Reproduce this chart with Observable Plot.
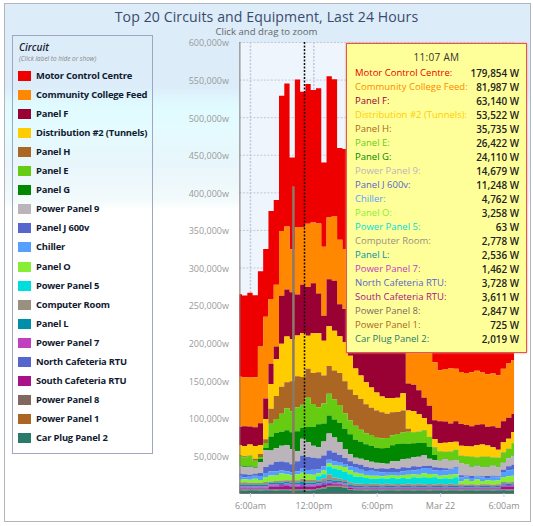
<!DOCTYPE html>
<html><head><meta charset="utf-8">
<script src="https://cdn.jsdelivr.net/npm/d3@7"></script>
<script src="https://cdn.jsdelivr.net/npm/@observablehq/plot@0.6"></script>
<style>
html,body{margin:0;padding:0;background:#fff;font-family:"Open Sans",sans-serif;}
#wrap{position:relative;width:533px;height:526px;overflow:hidden;}
#bg{position:absolute;left:4px;top:3px;width:525px;height:517px;border:1px solid #b4b4bc;
 background:linear-gradient(to bottom,#dcecf9 0,#dcecf9 82px,#e0fbff 102px,#e4fbff 125px,#e8f6fb 160px,#f2fafc 195px,#fff 206px);}
#wrap svg{position:absolute;left:0;top:0;background:transparent;}
#title{position:absolute;left:4px;width:525px;top:9px;line-height:16px;text-align:center;font-size:14.1px;color:#3b4a6b;letter-spacing:.1px;}
#sub{position:absolute;left:4px;width:525px;top:26px;line-height:11px;text-align:center;font-size:9.6px;color:#666;}
#legend{position:absolute;left:12px;top:35px;width:139px;height:417px;border:1px solid #a0a6c0;}
#legend .h{position:absolute;left:6px;top:4px;font-size:10px;font-weight:600;font-style:italic;color:#223;}
#legend .n{position:absolute;left:6px;top:18px;font-size:6.4px;font-style:italic;color:#888;}
#legend .r{position:absolute;left:5px;height:13px;white-space:nowrap;}
#legend .s{position:absolute;left:0;top:1px;width:13px;height:10px;}
#legend .l{position:absolute;left:18px;top:-1px;font-size:9.4px;letter-spacing:-.2px;font-weight:700;color:#111a30;}
#tip{position:absolute;left:346px;top:43px;width:179px;height:308px;background:#ffff99;border:1px solid #e05a4a;box-shadow:0 0 2px #e88;}
#tip .t{position:absolute;left:0;width:100%;top:6px;text-align:center;font-size:10px;color:#333;letter-spacing:.3px;}
#tip .r{position:absolute;left:8px;right:7px;height:14px;font-size:9.5px;line-height:14px;white-space:nowrap;}
#tip .v{position:absolute;right:0;top:0;color:#222;font-weight:600;font-size:9.9px;}
</style></head>
<body><div id="wrap"><div id="bg"></div><div id="chart"></div>
<div id="title"></div><div id="sub"></div><div id="legend"></div><div id="tip"></div></div>
<script>
const titleText="Top 20 Circuits and Equipment, Last 24 Hours";
const subText="Click and drag to zoom";
const names=["Motor Control Centre","Community College Feed","Panel F","Distribution #2 (Tunnels)","Panel H","Panel E","Panel G","Power Panel 9","Panel J 600v","Chiller","Panel O","Power Panel 5","Computer Room","Panel L","Power Panel 7","North Cafeteria RTU","South Cafeteria RTU","Power Panel 8","Power Panel 1","Car Plug Panel 2"];
const colors=["#ee0000","#ff8800","#990033","#ffcc00","#aa6622","#66cc11","#008800","#bbb4bb","#5566cc","#55a0ff","#88ee33","#00dddd","#999080","#008fa8","#c040c0","#5566cc","#aa1188","#806860","#aa6622","#2a7a6a"];
const readout=["179,854 W","81,987 W","63,140 W","53,522 W","35,735 W","26,422 W","24,110 W","14,679 W","11,248 W","4,762 W","3,258 W","63 W","2,778 W","2,536 W","1,462 W","3,728 W","3,611 W","2,847 W","725 W","2,019 W"];
const readoutTime="11:07 AM";
// half-hourly kW readings, from 05:00 on Mar 21 to 07:00 on Mar 22
const startTime=Date.UTC(2015,2,21,5,0);
const motorControl=[110,109,113,109,100,90,117,113,180,190,122,197,180,186,176,180,112,188,182,122,133,113,100,93,93,80,73,73,67,69,73,76,53,53,53,53,60,56,60,60,62,60,62,64,62,60,62,64,62,60,58,56,54];
const college=[66.5,65,65,66.5,102,109,86,82,86,84,57,89,77,84,81,93,92,82,86,86,80,100,106,100,86,80,66,60,60,60,66,70,110,100,93,90,80,77,68,70,73,70,69,69,72,72,69,70,70,70,70,72,72];
const panelF=[24,26.6,24,25,29,27,27,17,64,62.5,62.5,54.5,64,65,66.5,53,33,62.5,66.5,42.5,44,33,31,40,48,56,62.5,68,69,70.5,69,64,36,35,32,27,25,25,29,28,25,27,29,28,27,27,27,25,28,29,28,28,24];
const distribution=[13.3,13.3,14.6,17,12,27,33,49,57,61,56,54.5,58.5,44,53,52,46.5,53,53,49,52,45,35,31,29,27,24,21,21,19,19,23,24,28,23,16,16,10.6,10.6,12,12,10.6,13.3,13.3,13.3,16,16,14.6,13.3,10.6,13.3,13.3,14.6];
const panelH=[1.3,1.3,.5,2.7,4,5,20,30.6,36,34.6,40,41,37,38.6,41,46.5,37,37,38.6,42.5,42.5,41,41,41,38.6,36,36,34.6,32,30.6,29,29,4,.3,.3,.3,.3,.3,.3,.3,.3,.3,.3,.3,.3,.3,.3,.3,.3,.3,.3,.3,.3];
const panelE=[12,12,13.3,8,2.7,6.7,17,18.6,24,29,28,32,30.6,38.6,30.6,22.6,26.6,29,26.6,24,21,18.6,18.6,16,14.6,14.6,13.3,13.3,13.3,13.3,13.3,14.6,16,14.6,14.6,17,13.3,10.6,12,9.3,12,13.3,9.3,10.6,13.3,10.6,13.3,13.3,10.6,12,13.3,12,16];
const panelG=[1.3,1.3,1.3,1.3,4,2.7,18.6,20,18.6,20,22.6,26.6,14.6,20,25,30.6,24,24,24,25,26.6,26.6,24,22.6,21,21,20,20,21,21,22.6,21,20,18.6,18.6,16,16,6.7,.4,.4,.4,.4,.4,.4,.4,.4,.4,.4,.4,.4,.4,.4,.4];
const powerPanel9=[10.6,9.3,10.6,8,14.6,22.6,18.6,18.6,21,22.6,20,13.3,22.6,20,16,14.6,18.6,22.6,20,17.3,12,9.3,8,8,9.3,8,8,6.7,6.7,9.3,10.6,10.6,12,12,13.3,14.6,9.3,9.3,9.3,12,10.6,9.3,16,14.6,12,13.3,12,12,13.3,12,9.3,10.6,12];
const panelJ=[2.7,4,2.7,2.7,4,8,9.3,12,12,12,10.6,13.3,17.3,17.3,16,14.6,14.6,12,12,9.3,8,6.7,5.3,6.7,5.3,4,4,5.3,5.3,5.3,5.3,5.3,4,5.3,4,2.7,4,4,4,2.7,1.3,1.3,2.7,1.3,2.7,1.3,1.3,2.7,1.3,1.3,2.7,5.3,6.7];
const chiller=[5.3,2.7,4,4,5.3,5.3,5.3,5.3,4,4,4,4,5.3,5.3,6.7,5.3,5.3,5.3,5.3,5.3,4,5.3,6.7,5.3,5.3,6.7,5.3,5.3,4,4,4,5.3,5.3,5.3,6.7,6.7,6.7,5.3,6.7,6.7,6.7,8,5.3,4,4,4,5.3,2.7,5.3,4,6.7,8,8];
const panelO=[4,4,4,5.3,4,6.7,8,8,9.3,8,6.7,8,8,8,6.7,4,5.3,4,4,5.3,6.7,5.3,5.3,4,4,4,4,2.7,4,4,4,4,5.3,4,4,5.3,5.3,4,4,4,5.3,4,4,6.7,4,6.7,4,5.3,5.3,5.3,6.7,8,8];
const powerPanel5=[0,0,0,0,0,0,0,0,0,0,0,0,.06,.06,0,5.3,5.3,10.6,12,12,10.6,10.6,9.3,9.3,8,6.7,6.7,8,6.7,8,6.7,8,6.7,9.3,8,9.3,8,9.3,6.7,8,6.7,9.3,0,0,0,0,0,0,0,0,0,0,0];
const computerRoom=[2.7,3.8,2.7,2.7,2.7,3.8,1.8,2.5,2.5,2.5,3,3,4.5,3.5,3.5,2.5,4,7,4,2.5,2.5,3,3,3,3,3,3,2.5,3,2.5,3,2.5,3,2.5,3,2.5,3,2.5,3,2.5,3,2.5,2.5,2,2.5,2,2.5,2.5,2,2.5,2.2,2,2.5];
const panelL=[2,2,2,2,2,2,2,2,2,2,2.5,2.5,2.5,2.5,2.5,2,2,2,2,2,2,2,1.5,1.5,1.5,1.5,1.5,1.5,1.5,1.5,1.5,1.5,1.5,1.5,1.5,1.5,1.5,1.5,1.5,1.5,1.5,1.5,1.5,1.5,1.5,1.5,1.5,1.5,1.5,1.5,1.5,1.5,1.5];
const powerPanel7=[1.5,1.5,1.5,1.5,1.5,1.5,1.5,1.5,1.5,1.5,1.5,1.5,1.5,1.5,1.5,1.5,1.5,2,1.5,1.5,1.5,1.5,1,1,1,1,1,1,1,1,1,1,1,1,1,1,1,1,1,1,1,1,1,1,1,1,1,1,1,1,1.5,1.5,1.5];
const northRtu=[1.3,1.3,1.3,1.3,1.3,1.3,1.5,1.5,1.5,1.5,1.5,1.5,1.5,1.5,1.5,1.5,1.5,1.5,1.5,1.3,1.3,1.3,.8,.8,.8,.8,.8,.8,.8,.8,.8,.8,.8,.8,.8,.8,.8,.8,.8,.8,.8,.8,.8,.8,.8,.8,.8,.8,.8,.8,.8,.8,.8];
const southRtu=[1.3,1.3,1.3,1.3,1.3,1.3,3.5,3.5,4,4.5,3.5,3.5,4,3.5,3.5,3,3,2.5,2,2,1.5,1.3,1.3,1.3,1.3,1.3,1.3,1.3,1.3,1.3,1.3,1.3,1.3,1.3,1.3,1.3,1.3,1.3,1.3,1.3,1.3,1.3,1.3,1.3,1.3,1.3,1.3,1.3,1.3,1.3,4,4,4];
const powerPanel8=[.7,.7,.7,.7,.7,.7,1,1,1,1,1,1,1,1,1,1,1,1,1,1,1,.7,.7,.7,.7,.7,.7,.7,.7,.7,.7,.7,.7,.7,.7,.7,.7,.7,.7,.7,.7,.7,.7,.7,.7,.7,.7,.7,.7,.7,.7,.7,.7];
const powerPanel1=[.5,.5,.5,.5,.5,.5,.5,.5,.5,.5,.5,.5,.5,.5,.5,.5,.5,.5,.5,.5,.5,.5,.5,.5,.5,.5,.5,.5,.5,.5,.5,.5,.5,.5,.5,.5,.5,.5,.5,.5,.5,.5,.5,.5,.5,.5,.5,.5,.5,.5,.5,.5,.5];
const carPlug=[3.5,3.3,3.5,3.5,3.3,3.5,3.5,3.3,3.5,3.5,3.3,3.5,3.5,3.3,3.5,5,6,8,8,8,7,4,3.5,3.5,3.3,3.5,3.5,3.3,3.5,3.5,3.3,3.5,3.5,3.3,3.5,3.5,3.3,3.5,3.5,3.3,3.5,3.5,3.3,3.5,3.5,3.3,3.5,3.5,3.3,3.5,3.5,3.3,3.5];
const series=[motorControl,college,panelF,distribution,panelH,panelE,panelG,powerPanel9,panelJ,chiller,panelO,powerPanel5,computerRoom,panelL,powerPanel7,northRtu,southRtu,powerPanel8,powerPanel1,carPlug];
const xTicks=[Date.UTC(2015,2,21,6),Date.UTC(2015,2,21,12),Date.UTC(2015,2,21,18),Date.UTC(2015,2,22,0),Date.UTC(2015,2,22,6)];
const xTickLabels=["6:00am","12:00pm","6:00pm","Mar 22","6:00am"];
const yTicks=[50000,100000,150000,200000,250000,300000,350000,400000,450000,500000,550000,600000];
const crosshair=Date.UTC(2015,2,21,11,7);
const hoverRule=[{t:Date.UTC(2015,2,21,10,4),y:408000}];

const halfHour=1800000;
const table=[];
names.forEach((name,s)=>series[s].forEach((kw,i)=>table.push({t:new Date(startTime+i*halfHour),name,w:kw*1000})));
const chart=Plot.plot({
 width:533,height:526,marginLeft:239.4,marginRight:19,marginTop:42,marginBottom:33,
 style:{background:"transparent",fontFamily:"'Open Sans',sans-serif"},
 x:{type:"utc",domain:[new Date(startTime),new Date(startTime+52*halfHour)]},
 y:{domain:[0,600000]},
 color:{domain:names,range:colors},
 marks:[
  Plot.frame({fill:"#eef5fd",stroke:null}),
  Plot.ruleY(yTicks,{stroke:"#c6c6d6",strokeDasharray:"2,1.5",strokeWidth:1}),
  Plot.ruleX(xTicks,{x:d=>new Date(d),stroke:"#c6c6d6",strokeDasharray:"2,1.5",strokeWidth:1.5}),
  Plot.areaY(table,{x:"t",y:"w",fill:"name",z:"name",order:[...names].reverse(),curve:"step"}),
  Plot.ruleX([crosshair],{x:d=>new Date(d),stroke:"#111",strokeWidth:1.5,strokeDasharray:"2,1.5"}),
  Plot.ruleX(hoverRule,{x:d=>new Date(d.t),y1:0,y2:"y",stroke:"#8a7a6a",strokeWidth:2.5}),
  Plot.ruleX([startTime],{x:d=>new Date(d),stroke:"#807070",strokeWidth:1}),
  Plot.ruleY([0],{stroke:"#807070",strokeWidth:1}),
  Plot.axisY({ticks:yTicks,tickFormat:d=>d3.format(",")(d)+"w",tickSize:0,tickPadding:11,fontSize:9,color:"#9a9a9a",label:null,dy:1}),
  Plot.axisX({ticks:xTicks.map(d=>new Date(d)),tickFormat:(d,i)=>xTickLabels[i],tickSize:4,tickPadding:5,fontSize:9,color:"#8f8f8f",stroke:"#ccd",label:null})
 ]
});
document.getElementById("chart").append(chart);
d3.select("#title").text(titleText);
d3.select("#sub").text(subText);
const lg=d3.select("#legend");
lg.append("div").attr("class","h").text("Circuit");
lg.append("div").attr("class","n").text("(Click label to hide or show)");
names.forEach((n,i)=>{
 const r=lg.append("div").attr("class","r").style("top",(34+i*19.05)+"px");
 r.append("div").attr("class","s").style("background",colors[i]);
 r.append("div").attr("class","l").text(n);
});
const tip=d3.select("#tip");
tip.append("div").attr("class","t").text(readoutTime);
names.forEach((n,i)=>{
 const r=tip.append("div").attr("class","r").style("top",(22+i*14)+"px").style("color",colors[i]);
 r.append("span").text(n+":");
 r.append("span").attr("class","v").text(readout[i]);
});
</script></body></html>
